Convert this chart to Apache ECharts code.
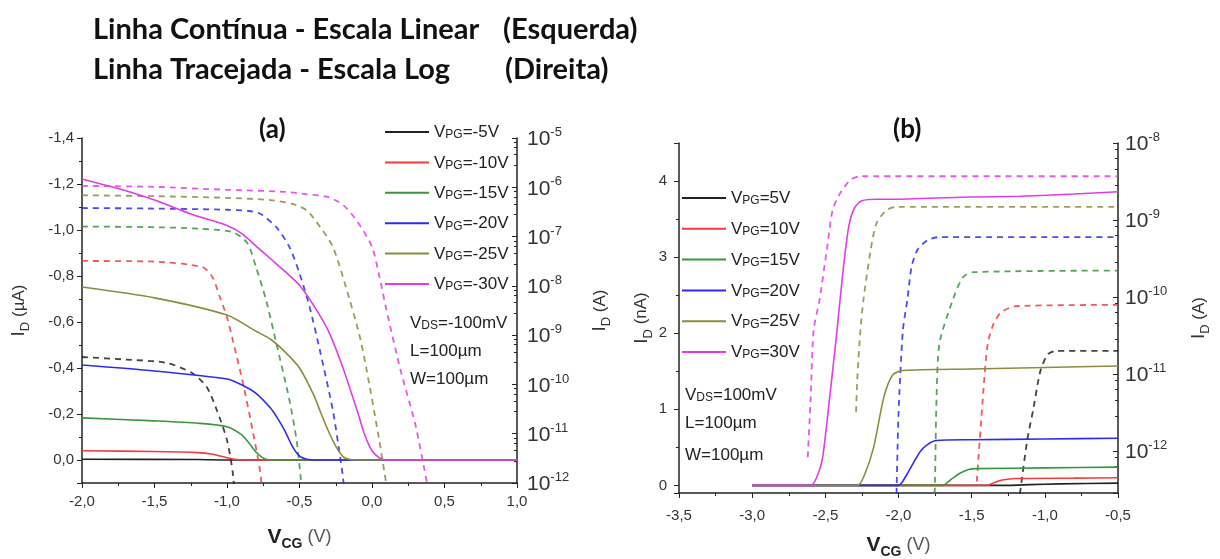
<!DOCTYPE html>
<html>
<head>
<meta charset="utf-8">
<script src="https://cdn.jsdelivr.net/npm/echarts@6/dist/echarts.min.js"></script>
<style>
html, body { margin: 0; padding: 0; background: #fff; }
#chart { width: 1220px; height: 559px; }
</style>
</head>
<body>
<div id="chart"></div>
<script>
// legend names
var namesA = ['VPG=-5V', 'VPG=-10V', 'VPG=-15V', 'VPG=-20V', 'VPG=-25V', 'VPG=-30V'];
var namesB = ['VPG=5V', 'VPG=10V', 'VPG=15V', 'VPG=20V', 'VPG=25V', 'VPG=30V'];
var colors = ['#222222', '#f23c3c', '#3a963a', '#2c2cf0', '#8c8c3c', '#e03ce6'];

// (a) solid lines, I_D in uA (left axis)
var linA5  = [[-2, -0.003], [-1.2, -0.002], [-1.0, 0], [1, 0]];
var linA10 = [[-2, -0.04], [-1.5, -0.037], [-1.2, -0.032], [-1.1, -0.025], [-1.0, -0.01], [-0.95, -0.003], [-0.9, 0], [1, 0]];
var linA15 = [[-2, -0.183], [-1.5, -0.17], [-1.2, -0.16], [-1.0, -0.145], [-0.9, -0.11], [-0.85, -0.075], [-0.8, -0.035], [-0.75, -0.008], [-0.7, 0], [1, 0]];
var linA20 = [[-2, -0.413], [-1.5, -0.387], [-1.0, -0.352], [-0.9, -0.327], [-0.8, -0.29], [-0.7, -0.226], [-0.65, -0.18], [-0.6, -0.126], [-0.55, -0.06], [-0.5, -0.017], [-0.45, -0.003], [-0.4, 0], [1, 0]];
var linA25 = [[-2, -0.752], [-1.5, -0.705], [-1.0, -0.63], [-0.8, -0.56], [-0.7, -0.525], [-0.6, -0.47], [-0.5, -0.40], [-0.4, -0.28], [-0.35, -0.2], [-0.3, -0.125], [-0.25, -0.06], [-0.2, -0.015], [-0.15, -0.002], [-0.1, 0], [1, 0]];
var linA30 = [[-2, -1.222], [-1.75, -1.18], [-1.5, -1.13], [-1.25, -1.07], [-1.0, -1.02], [-0.9, -0.985], [-0.8, -0.93], [-0.7, -0.875], [-0.6, -0.82], [-0.5, -0.76], [-0.4, -0.67], [-0.3, -0.56], [-0.2, -0.40], [-0.1, -0.21], [-0.05, -0.11], [0, -0.04], [0.05, -0.01], [0.1, 0], [1, 0]];

// (a) dashed lines, I_D in A (right log axis)
var logA5  = [[-2, 3.6e-10], [-1.7, 3.2e-10], [-1.42, 2.75e-10], [-1.24, 1.7e-10], [-1.14, 8.9e-11], [-1.07, 3.0e-11], [-1.0, 7.4e-12], [-0.96, 1.6e-12], [-0.94, 3e-13]];
var logA10 = [[-2, 3.2e-8], [-1.5, 3.1e-8], [-1.17, 2.4e-8], [-1.1, 1.5e-8], [-1.05, 6.0e-9], [-1.0, 2.3e-9], [-0.96, 7.9e-10], [-0.89, 1.07e-10], [-0.82, 1.05e-11], [-0.77, 1.6e-12], [-0.75, 3e-13]];
var logA15 = [[-2, 1.6e-7], [-1.5, 1.55e-7], [-1.2, 1.45e-7], [-0.96, 1.23e-7], [-0.86, 7.4e-8], [-0.8, 2.4e-8], [-0.73, 5.1e-9], [-0.66, 6.9e-10], [-0.57, 4.9e-11], [-0.52, 7.4e-12], [-0.49, 1.15e-12], [-0.47, 3e-13]];
var logA20 = [[-2, 3.8e-7], [-1.5, 3.7e-7], [-1.0, 3.5e-7], [-0.85, 3.3e-7], [-0.77, 2.9e-7], [-0.66, 1.55e-7], [-0.57, 6.2e-8], [-0.5, 1.8e-8], [-0.43, 3.7e-9], [-0.36, 5.0e-10], [-0.27, 3.0e-11], [-0.22, 3.4e-12], [-0.2, 1.3e-12], [-0.18, 3e-13]];
var logA25 = [[-2, 6.9e-7], [-1.5, 6.6e-7], [-1.0, 6.1e-7], [-0.7, 5.5e-7], [-0.55, 4.6e-7], [-0.45, 3.4e-7], [-0.36, 1.6e-7], [-0.27, 6.2e-8], [-0.18, 9.5e-9], [-0.09, 1.1e-9], [-0.04, 2.2e-10], [0.05, 7.4e-12], [0.1, 9e-13], [0.13, 3e-13]];
var logA30 = [[-2, 1.07e-6], [-1.5, 1.02e-6], [-1.0, 8.9e-7], [-0.6, 8.1e-7], [-0.45, 7.2e-7], [-0.3, 6.3e-7], [-0.2, 4.4e-7], [-0.1, 2.0e-7], [0.0, 6.2e-8], [0.05, 1.6e-8], [0.1, 3.2e-9], [0.2, 1.8e-10], [0.3, 1.5e-11], [0.38, 1.0e-12], [0.42, 3e-13]];

// (b) solid lines, I_D in nA (left axis)
var linB5  = [[-3, 0], [-1.25, 0], [-1.1, 0.01], [-0.9, 0.02], [-0.5, 0.03]];
var linB10 = [[-3, 0], [-1.4, 0], [-1.34, 0.04], [-1.29, 0.07], [-1.2, 0.09], [-0.8, 0.095], [-0.5, 0.1]];
var linB15 = [[-3, 0], [-1.7, 0], [-1.64, 0.08], [-1.58, 0.16], [-1.52, 0.21], [-1.47, 0.22], [-1.0, 0.23], [-0.5, 0.24]];
var linB20 = [[-3, 0], [-2.0, 0], [-1.95, 0.12], [-1.9, 0.29], [-1.85, 0.45], [-1.8, 0.54], [-1.74, 0.59], [-1.5, 0.6], [-1.0, 0.61], [-0.5, 0.62]];
var linB25 = [[-3, 0], [-2.28, 0], [-2.23, 0.15], [-2.17, 0.5], [-2.1, 1.16], [-2.04, 1.45], [-1.97, 1.51], [-1.5, 1.53], [-1.0, 1.55], [-0.5, 1.57]];
var linB30 = [[-3, 0], [-2.6, 0], [-2.56, 0.1], [-2.52, 0.35], [-2.47, 1.16], [-2.42, 2.04], [-2.38, 2.8], [-2.34, 3.4], [-2.3, 3.65], [-2.25, 3.74], [-2.15, 3.76], [-2.0, 3.76], [-1.85, 3.77], [-1.5, 3.79], [-1.17, 3.8], [-0.8, 3.83], [-0.5, 3.86]];

// (b) dashed lines, I_D in A (right log axis)
var logB5  = [[-1.17, 2.8e-13], [-1.12, 1.4e-12], [-1.08, 3.4e-12], [-1.03, 1.1e-11], [-0.98, 1.8e-11], [-0.92, 2.0e-11], [-0.5, 2.0e-11]];
var logB10 = [[-1.465, 4e-13], [-1.42, 6e-12], [-1.39, 2.5e-11], [-1.35, 4.5e-11], [-1.3, 6.3e-11], [-1.2, 7.6e-11], [-0.5, 7.9e-11]];
var logB15 = [[-1.755, 2e-13], [-1.75, 4.6e-13], [-1.74, 5e-12], [-1.72, 2.5e-11], [-1.63, 9.1e-11], [-1.56, 1.8e-10], [-1.49, 2.1e-10], [-0.5, 2.2e-10]];
var logB20 = [[-2.015, 2e-13], [-2.0, 3e-12], [-1.97, 3.7e-11], [-1.94, 9.1e-11], [-1.91, 2.5e-10], [-1.87, 4.1e-10], [-1.8, 5.5e-10], [-1.72, 6.0e-10], [-0.5, 6.0e-10]];
var logB25 = [[-2.29, 3.2e-12], [-2.28, 1e-11], [-2.26, 3.7e-11], [-2.24, 9.1e-11], [-2.19, 4.1e-10], [-2.15, 9.1e-10], [-2.08, 1.35e-9], [-2.01, 1.48e-9], [-0.5, 1.48e-9]];
var logB30 = [[-2.62, 8.3e-13], [-2.6, 5e-12], [-2.58, 3.7e-11], [-2.54, 9.1e-11], [-2.49, 4.1e-10], [-2.45, 1.35e-9], [-2.4, 2.2e-9], [-2.33, 3.3e-9], [-2.26, 3.7e-9], [-0.5, 3.7e-9]];

var linA = [linA5, linA10, linA15, linA20, linA25, linA30];
var logA = [logA5, logA10, logA15, logA20, logA25, logA30];
var linB = [linB5, linB10, linB15, linB20, linB25, linB30];
var logB = [logB5, logB10, logB15, logB20, logB25, logB30];

var FONT = 'Liberation Sans';
var LABEL = { fontFamily: FONT, fontSize: 15, color: '#333' };
var AXLINE = { onZero: false, lineStyle: { color: '#222', width: 1.5 } };

function comma(v) {
    if (Math.abs(v) < 1e-9) v = 0;
    return v.toFixed(1).replace('.', ',');
}
function logLabel(v) {
    var e = Math.round(Math.log10(v));
    return '{b|10}{e|' + e + '}';
}
var logRich = {
    b: { fontFamily: FONT, fontSize: 21, color: '#333', lineHeight: 24, verticalAlign: 'bottom' },
    e: { fontFamily: FONT, fontSize: 13, color: '#333', lineHeight: 24, verticalAlign: 'top' }
};
var subRich = {
    v: { fontFamily: FONT, fontSize: 17, fontWeight: 'normal', color: '#222', lineHeight: 18, verticalAlign: 'bottom' },
    s: { fontFamily: FONT, fontSize: 12, fontWeight: 'normal', color: '#222', lineHeight: 18, verticalAlign: 'bottom' },
    d: { fontFamily: FONT, fontSize: 12, fontWeight: 'normal', color: '#222', lineHeight: 23, verticalAlign: 'bottom' }
};
var nameRich = {
    i: { fontFamily: FONT, fontSize: 19, color: '#333' },
    d: { fontFamily: FONT, fontSize: 13, color: '#333', verticalAlign: 'bottom', lineHeight: 26 },
    u: { fontFamily: FONT, fontSize: 17, color: '#333' },
    vb: { fontFamily: FONT, fontSize: 21, fontWeight: 'bold', color: '#222' },
    c: { fontFamily: FONT, fontSize: 14, fontWeight: 'bold', color: '#222', verticalAlign: 'bottom', lineHeight: 28 },
    p: { fontFamily: FONT, fontSize: 18, color: '#555' }
};

function lines(lin, log, names, xi, yl, yr) {
    var out = [];
    for (var i = 0; i < lin.length; i++) {
        out.push({
            type: 'line', name: names[i], xAxisIndex: xi, yAxisIndex: yl, data: lin[i],
            symbol: 'none', smooth: 0.25, silent: true,
            lineStyle: { color: colors[i], width: 1.6 }, itemStyle: { color: colors[i] }
        });
        out.push({
            type: 'line', name: names[i] + ' log', xAxisIndex: xi, yAxisIndex: yr, data: log[i],
            symbol: 'none', smooth: 0.25, silent: true,
            lineStyle: { color: colors[i], width: 1.8, type: [6, 5], opacity: 0.85 }, itemStyle: { color: colors[i] }
        });
    }
    return out;
}

function legendFmt(name) {
    return '{v|V}{s|PG}{v|' + name.slice(3) + '}';
}

function head(text, left, top, size) {
    return { text: text, left: left, top: top, padding: 0,
        textStyle: { fontFamily: 'Lato', fontWeight: 'bold', fontSize: size, color: '#111' } };
}
function note(text, left, top) {
    return { text: text, left: left, top: top, padding: 0, textStyle: { fontWeight: 'normal', rich: subRich } };
}

var chart = echarts.init(document.getElementById('chart'));
chart.setOption({
    animation: false,
    backgroundColor: '#fff',
    title: [
        head('Linha Contínua - Escala Linear', 93, 15, 29),
        head('(Esquerda)', 503, 15, 29),
        head('Linha Tracejada - Escala Log', 93, 55, 29),
        head('(Direita)', 505, 55, 29),
        head('(a)', 259, 117, 26),
        head('(b)', 893, 117, 26),
        note('{v|V}{d|DS}{v|=-100mV}', 410, 309),
        note('{v|L=100µm}', 410, 342),
        note('{v|W=100µm}', 410, 370),
        note('{v|V}{d|DS}{v|=100mV}', 685, 381),
        note('{v|L=100µm}', 685, 414),
        note('{v|W=100µm}', 685, 446)
    ],
    legend: [
        { data: namesA, orient: 'vertical', left: 385, top: 124, icon: 'rect', itemWidth: 44, itemHeight: 2,
          itemGap: 13.4, padding: 0, formatter: legendFmt, textStyle: { rich: subRich }, selectedMode: false },
        { data: namesB, orient: 'vertical', left: 682, top: 190, icon: 'rect', itemWidth: 44, itemHeight: 2,
          itemGap: 13.8, padding: 0, formatter: legendFmt, textStyle: { rich: subRich }, selectedMode: false }
    ],
    grid: [
        { left: 82, top: 138, width: 435, height: 345, outerBoundsMode: 'none' },
        { left: 679, top: 143, width: 439, height: 350, outerBoundsMode: 'none' }
    ],
    xAxis: [
        { type: 'value', gridIndex: 0, min: -2, max: 1, interval: 0.5,
          name: '{vb|V}{c|CG}{p| (V)}', nameLocation: 'middle', nameGap: 40, nameTextStyle: { rich: nameRich },
          axisLine: AXLINE, axisTick: { length: 5, lineStyle: { color: '#222' } },
          minorTick: { show: true, splitNumber: 2, length: 3, lineStyle: { color: '#222' } },
          splitLine: { show: false }, axisLabel: Object.assign({ margin: 11, formatter: comma }, LABEL) },
        { type: 'value', gridIndex: 1, min: -3.5, max: -0.5, interval: 0.5,
          name: '{vb|V}{c|CG}{p| (V)}', nameLocation: 'middle', nameGap: 38, nameTextStyle: { rich: nameRich },
          axisLine: AXLINE, axisTick: { length: 5, lineStyle: { color: '#222' } },
          minorTick: { show: true, splitNumber: 2, length: 3, lineStyle: { color: '#222' } },
          splitLine: { show: false }, axisLabel: Object.assign({ margin: 15, formatter: comma }, LABEL) }
    ],
    yAxis: [
        { type: 'value', gridIndex: 0, min: -1.4, max: 0.1, interval: 0.2, inverse: true,
          name: '{i|I}{d|D}{u| (µA)}', nameLocation: 'middle', nameGap: 50, nameTextStyle: { rich: nameRich },
          axisLine: AXLINE, axisTick: { length: 5, lineStyle: { color: '#222' } },
          minorTick: { show: true, splitNumber: 2, length: 3, lineStyle: { color: '#222' } },
          splitLine: { show: false }, axisLabel: Object.assign({ margin: 8, formatter: comma, showMaxLabel: false }, LABEL) },
        { type: 'log', gridIndex: 0, position: 'right', min: 1e-12, max: 1e-5, splitNumber: 7,
          name: '{i|I}{d|D}{u| (A)}', nameLocation: 'middle', nameGap: 70, nameRotate: 90, nameTextStyle: { rich: nameRich },
          axisLine: AXLINE, axisTick: { inside: true, length: 5, lineStyle: { color: '#222' } },
          minorTick: { show: true, splitNumber: 5, length: 3, lineStyle: { color: '#222' } },
          splitLine: { show: false }, axisLabel: { margin: 10, formatter: logLabel, rich: logRich } },
        { type: 'value', gridIndex: 1, min: -0.1, max: 4.5, splitNumber: 5,
          name: '{i|I}{d|D}{u| (nA)}', nameLocation: 'middle', nameGap: 23, nameTextStyle: { rich: nameRich },
          axisLine: AXLINE, axisTick: { length: 5, lineStyle: { color: '#222' } },
          minorTick: { show: true, splitNumber: 2, length: 3, lineStyle: { color: '#222' } },
          splitLine: { show: false },
          axisLabel: Object.assign({ margin: 12, showMinLabel: false, showMaxLabel: false,
              formatter: function (v) { return String(Math.round(v)); } }, LABEL) },
        { type: 'log', gridIndex: 1, position: 'right', min: 2.85e-13, max: 1e-8, splitNumber: 5,
          name: '{i|I}{d|D}{u| (A)}', nameLocation: 'middle', nameGap: 68, nameRotate: 90, nameTextStyle: { rich: nameRich },
          axisLine: AXLINE, axisTick: { inside: true, length: 5, lineStyle: { color: '#222' } },
          minorTick: { show: true, splitNumber: 5, length: 3, lineStyle: { color: '#222' } },
          splitLine: { show: false }, axisLabel: { margin: 7, showMinLabel: false, formatter: logLabel, rich: logRich } }
    ],
    series: lines(linA, logA, namesA, 0, 0, 1).concat(lines(linB, logB, namesB, 1, 2, 3))
});
window.addEventListener('resize', chart.resize);
</script>
</body>
</html>
